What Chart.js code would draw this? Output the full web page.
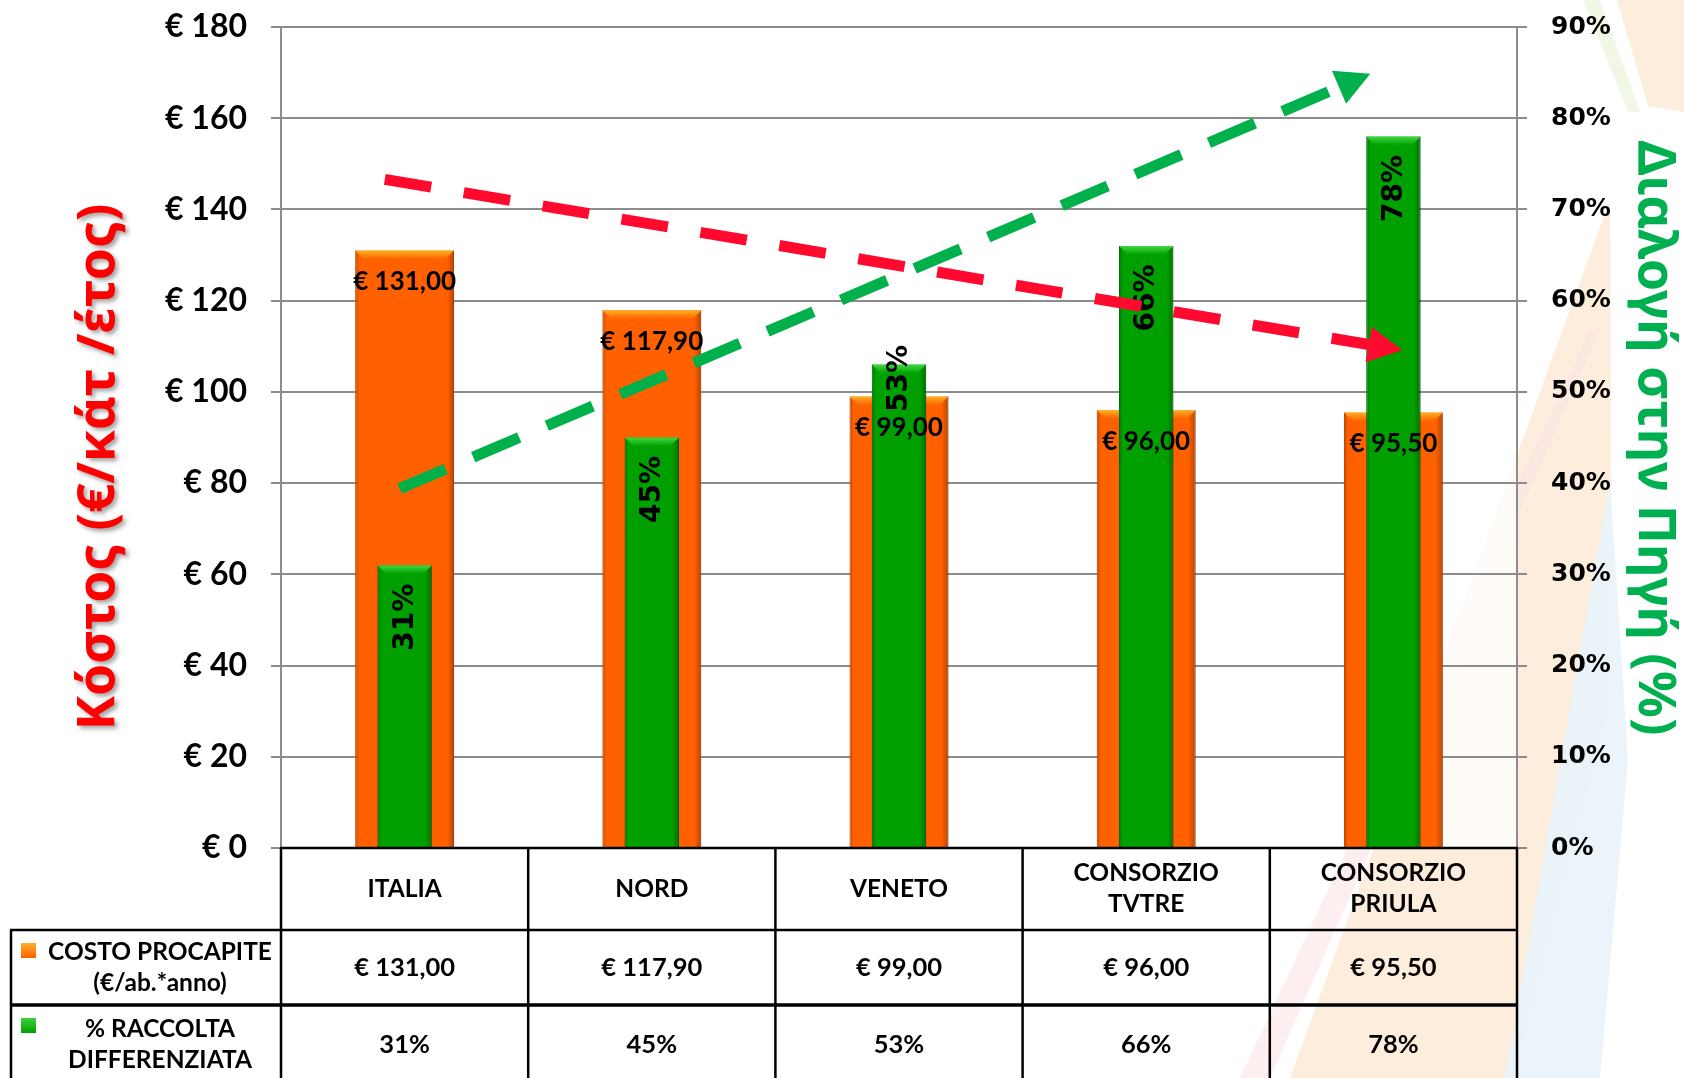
<!DOCTYPE html>
<html>
<head>
<meta charset="utf-8">
<script src="https://cdn.jsdelivr.net/npm/chart.js@4.4.1/dist/chart.umd.min.js"></script>
<style>
  html, body { margin: 0; padding: 0; background: #fff; }
  #wrap { position: relative; width: 1684px; height: 1078px; }
</style>
</head>
<body>
<div id="wrap"><canvas id="costChart"></canvas></div>
<script>
const categories = ['ITALIA', 'NORD', 'VENETO', ['CONSORZIO', 'TVTRE'], ['CONSORZIO', 'PRIULA']];
const costValues = [131.00, 117.90, 99.00, 96.00, 95.50];
const recyclingPct = [31, 45, 53, 66, 78];
const costTickLabels = ['€ 0', '€ 20', '€ 40', '€ 60', '€ 80', '€ 100', '€ 120', '€ 140', '€ 160', '€ 180'];
const pctTickLabels = ['0%', '10%', '20%', '30%', '40%', '50%', '60%', '70%', '80%', '90%'];
const costSeriesName = ['COSTO PROCAPITE', '(€/ab.*anno)'];
const pctSeriesName = ['% RACCOLTA', 'DIFFERENZIATA'];
const costAxisTitle = 'Κόστος (€/κάτ /έτος)';
const pctAxisTitle = 'Διαλογή στην Πηγή (%)';
// dashed trend arrows: start / end in (category index, axis value)
const costTrendX = [-0.08, 3.9];
const costTrendY = [146.6, 110.4];
const pctTrendX = [-0.02, 3.78];
const pctTrendY = [39.4, 83.4];

const ORANGE = '#FF6000';
const GREEN = '#00A000';
const GRID = '#8c8c8c';

function euro(v) {
    return '€ ' + v.toFixed(2).replace('.', ',');
}

function drawLine(ctx, x1, y1, x2, y2, w) {
    ctx.lineWidth = w;
    ctx.beginPath();
    ctx.moveTo(x1, y1);
    ctx.lineTo(x2, y2);
    ctx.stroke();
}

// pale decorative stripes behind the slide
const backdrop = {
    id: 'backdrop',
    beforeDraw(chart) {
        const ctx = chart.ctx;
        const a = chart.chartArea;
        const bands = [
            ['rgba(252,232,212,0.8)', [[1290, 1078], [1610, 200], [1612, 700], [1515, 1078]]],
            ['rgba(232,243,250,0.9)', [[1505, 1078], [1610, 480], [1628, 760], [1600, 1078]]],
            ['rgba(252,232,212,0.8)', [[1617, 0], [1684, 0], [1684, 112], [1648, 106]]],
            ['rgba(236,246,222,0.8)', [[1583, 0], [1600, 0], [1640, 112], [1628, 112]]],
            ['rgba(252,228,228,0.6)', [[1240, 1078], [1270, 1078], [1600, 330], [1590, 330]]]
        ];
        ctx.save();
        ctx.fillStyle = '#fff';
        ctx.fillRect(0, 0, chart.width, chart.height);
        bands.forEach(([c, pts]) => {
            ctx.fillStyle = c;
            ctx.beginPath();
            pts.forEach((p, i) => i ? ctx.lineTo(p[0], p[1]) : ctx.moveTo(p[0], p[1]));
            ctx.closePath();
            ctx.fill();
        });
        ctx.fillStyle = 'rgba(255,255,255,0.8)';
        ctx.fillRect(a.left, a.top, a.right - a.left, a.bottom - a.top);
        ctx.restore();
    }
};

// bevel on bars, value labels, arrow heads
const barDecor = {
    id: 'barDecor',
    afterDatasetDraw(chart, args) {
        const ctx = chart.ctx;
        const ds = chart.data.datasets[args.index];
        const meta = args.meta;
        ctx.save();
        if (ds.type === 'line' && ds.arrowColor) {
            const p0 = meta.data[0], p1 = meta.data[meta.data.length - 1];
            const dx = p1.x - p0.x, dy = p1.y - p0.y;
            const len = Math.hypot(dx, dy);
            const ux = dx / len, uy = dy / len;
            const L = 34, W = 18;
            ctx.fillStyle = ds.arrowColor;
            ctx.beginPath();
            ctx.moveTo(p1.x + ux * L, p1.y + uy * L);
            ctx.lineTo(p1.x - uy * W, p1.y + ux * W);
            ctx.lineTo(p1.x + uy * W, p1.y - ux * W);
            ctx.closePath();
            ctx.fill();
        }
        if (ds.bevelColor) {
            meta.data.forEach(bar => {
                const {x, y, base, width} = bar.getProps(['x', 'y', 'base', 'width'], true);
                const L = x - width / 2, R = x + width / 2;
                const g = ctx.createLinearGradient(R - 7, 0, R, 0);
                g.addColorStop(0, 'rgba(0,0,0,0)');
                g.addColorStop(1, 'rgba(0,0,0,0.28)');
                ctx.fillStyle = g;
                ctx.fillRect(R - 7, y, 7, base - y);
                ctx.fillStyle = 'rgba(0,0,0,0.12)';
                ctx.fillRect(L, y, 3, base - y);
                const b = 9;
                const tg = ctx.createLinearGradient(0, y, 0, y + b);
                tg.addColorStop(0, ds.bevelColor);
                tg.addColorStop(1, ds.backgroundColor);
                ctx.fillStyle = tg;
                ctx.beginPath();
                ctx.moveTo(L, y);
                ctx.lineTo(R, y);
                ctx.lineTo(R - b, y + b);
                ctx.lineTo(L + b, y + b);
                ctx.closePath();
                ctx.fill();
            });
        }
        if (args.index === 3) {
            const costMeta = chart.getDatasetMeta(2);
            ctx.fillStyle = '#000';
            ctx.textAlign = 'center';
            ctx.textBaseline = 'middle';
            ctx.font = 'bold 26px Lato';
            costMeta.data.forEach((bar, i) => {
                ctx.fillText(euro(costValues[i]), bar.x, bar.y + 31);
            });
            const shift = [52, 52, 14, 52, 52];
            ctx.font = 'bold 28px "DejaVu Sans"';
            meta.data.forEach((bar, i) => {
                ctx.save();
                ctx.translate(bar.x, bar.y + shift[i]);
                ctx.rotate(-Math.PI / 2);
                ctx.fillText(recyclingPct[i] + '%', 0, 1);
                ctx.restore();
            });
        }
        ctx.restore();
    }
};

// data table under the plot + axis titles
const dataTable = {
    id: 'dataTable',
    afterDraw(chart) {
        const ctx = chart.ctx;
        const a = chart.chartArea;
        const x = chart.scales.x;
        const n = categories.length;
        const colW = (a.right - a.left) / n;
        const rowY = [a.bottom, a.bottom + 82, a.bottom + 157, a.bottom + 237];
        const labelLeft = 11;
        ctx.save();
        ctx.strokeStyle = '#000';
        drawLine(ctx, a.left - 1, rowY[0], a.right + 1, rowY[0], 2.5);
        drawLine(ctx, labelLeft - 1, rowY[1], a.right + 1, rowY[1], 2.5);
        drawLine(ctx, labelLeft - 1, rowY[2], a.right + 1, rowY[2], 3.5);
        for (let i = 0; i <= n; i++) {
            drawLine(ctx, a.left + i * colW, rowY[0], a.left + i * colW, rowY[3], 2.5);
        }
        drawLine(ctx, labelLeft, rowY[1], labelLeft, rowY[3], 2.5);

        ctx.fillStyle = '#000';
        ctx.textAlign = 'center';
        ctx.textBaseline = 'middle';
        const lh = 31;
        const cell = (lines, cx, top, bottom) => {
            const arr = Array.isArray(lines) ? lines : [lines];
            const mid = (top + bottom) / 2;
            arr.forEach((t, k) => ctx.fillText(t, cx, mid + (k - (arr.length - 1) / 2) * lh));
        };
        categories.forEach((c, i) => {
            const cx = x.getPixelForValue(i);
            ctx.font = 'bold 24.5px Lato';
            cell(c, cx, rowY[0], rowY[1]);
            ctx.font = 'bold 25.5px Lato';
            cell(euro(costValues[i]), cx, rowY[1], rowY[2]);
            cell(recyclingPct[i] + '%', cx, rowY[2], rowY[3]);
        });
        ctx.font = 'bold 24.5px Lato';
        cell(costSeriesName, 160, rowY[1], rowY[2]);
        cell(pctSeriesName, 160, rowY[2], rowY[3]);

        const swatch = (top, c1, c2) => {
            const g = ctx.createLinearGradient(0, top, 0, top + 15);
            g.addColorStop(0, c1);
            g.addColorStop(1, c2);
            ctx.fillStyle = g;
            ctx.fillRect(21, top, 15, 15);
        };
        swatch(rowY[1] + 13, '#FFB030', ORANGE);
        swatch(rowY[2] + 13, '#40D040', GREEN);

        // axis titles
        const title = (text, cx, cy, rot, color, target, shadow) => {
            ctx.save();
            ctx.font = 'bold 44px "Noto Sans"';
            const size = 44 * target / ctx.measureText(text).width;
            ctx.font = 'bold ' + size.toFixed(1) + 'px "Noto Sans"';
            ctx.translate(cx, cy);
            ctx.rotate(rot);
            if (shadow) {
                ctx.shadowColor = 'rgba(0,0,0,0.35)';
                ctx.shadowOffsetX = 3;
                ctx.shadowOffsetY = 3;
                ctx.shadowBlur = 4;
            }
            ctx.fillStyle = color;
            ctx.fillText(text, 0, 0);
            ctx.restore();
        };
        title(costAxisTitle, 99, 467, -Math.PI / 2, '#FF0000', 526, true);
        title(pctAxisTitle, 1654, 438, Math.PI / 2, '#00B050', 595, false);
        ctx.restore();
    }
};

const ctx = document.getElementById('costChart').getContext('2d');
const chart = new Chart(ctx, {
    type: 'bar',
    data: {
        labels: categories,
        datasets: [
            {
                type: 'line',
                label: 'trend costo',
                data: costTrendX.map((v, i) => ({x: v, y: costTrendY[i]})),
                xAxisID: 'xa',
                yAxisID: 'y',
                borderColor: '#FF0A2E',
                arrowColor: '#FF0A2E',
                borderWidth: 11,
                borderDash: [47, 33],
                pointRadius: 0,
                fill: false,
                order: 0
            },
            {
                type: 'line',
                label: 'trend raccolta',
                data: pctTrendX.map((v, i) => ({x: v, y: pctTrendY[i]})),
                xAxisID: 'xa',
                yAxisID: 'y2',
                borderColor: '#00B04A',
                arrowColor: '#00B04A',
                borderWidth: 11,
                borderDash: [50, 30],
                pointRadius: 0,
                fill: false,
                order: 0
            },
            {
                label: 'COSTO PROCAPITE (€/ab.*anno)',
                data: costValues,
                xAxisID: 'x',
                yAxisID: 'y',
                backgroundColor: ORANGE,
                bevelColor: '#FFB020',
                borderColor: '#D84E00',
                borderWidth: 1,
                grouped: false,
                categoryPercentage: 1,
                barPercentage: 0.4,
                order: 2
            },
            {
                label: '% RACCOLTA DIFFERENZIATA',
                data: recyclingPct,
                xAxisID: 'x',
                yAxisID: 'y2',
                backgroundColor: GREEN,
                bevelColor: '#40D840',
                borderColor: '#007800',
                borderWidth: 1,
                grouped: false,
                categoryPercentage: 1,
                barPercentage: 0.22,
                order: 1
            }
        ]
    },
    options: {
        responsive: true,
        maintainAspectRatio: false,
        animation: false,
        layout: {padding: {top: 27, bottom: 230, left: 0, right: 0}},
        plugins: {
            legend: {display: false},
            tooltip: {enabled: false}
        },
        scales: {
            x: {
                display: false,
                offset: true
            },
            xa: {
                type: 'linear',
                display: false,
                offset: false,
                min: -0.5,
                max: 4.5
            },
            y: {
                position: 'left',
                min: 0,
                max: 180,
                ticks: {
                    stepSize: 20,
                    padding: 24,
                    color: '#000',
                    font: {family: 'Lato', size: 32, weight: 'bold'},
                    callback: (v, i) => costTickLabels[i]
                },
                grid: {color: GRID, lineWidth: 2, tickLength: 10},
                border: {color: GRID, width: 2},
                afterFit: s => { s.width = 281; s.paddingTop = 0; s.paddingBottom = 0; }
            },
            y2: {
                position: 'right',
                min: 0,
                max: 90,
                ticks: {
                    stepSize: 10,
                    padding: 24,
                    color: '#000',
                    font: {family: 'DejaVu Sans', size: 25, weight: 'bold'},
                    callback: (v, i) => pctTickLabels[i]
                },
                grid: {color: GRID, lineWidth: 2, tickLength: 10, drawOnChartArea: false},
                border: {color: GRID, width: 2},
                afterFit: s => { s.width = 167; s.paddingTop = 0; s.paddingBottom = 0; }
            }
        }
    },
    plugins: [backdrop, barDecor, dataTable]
});
</script>
</body>
</html>
